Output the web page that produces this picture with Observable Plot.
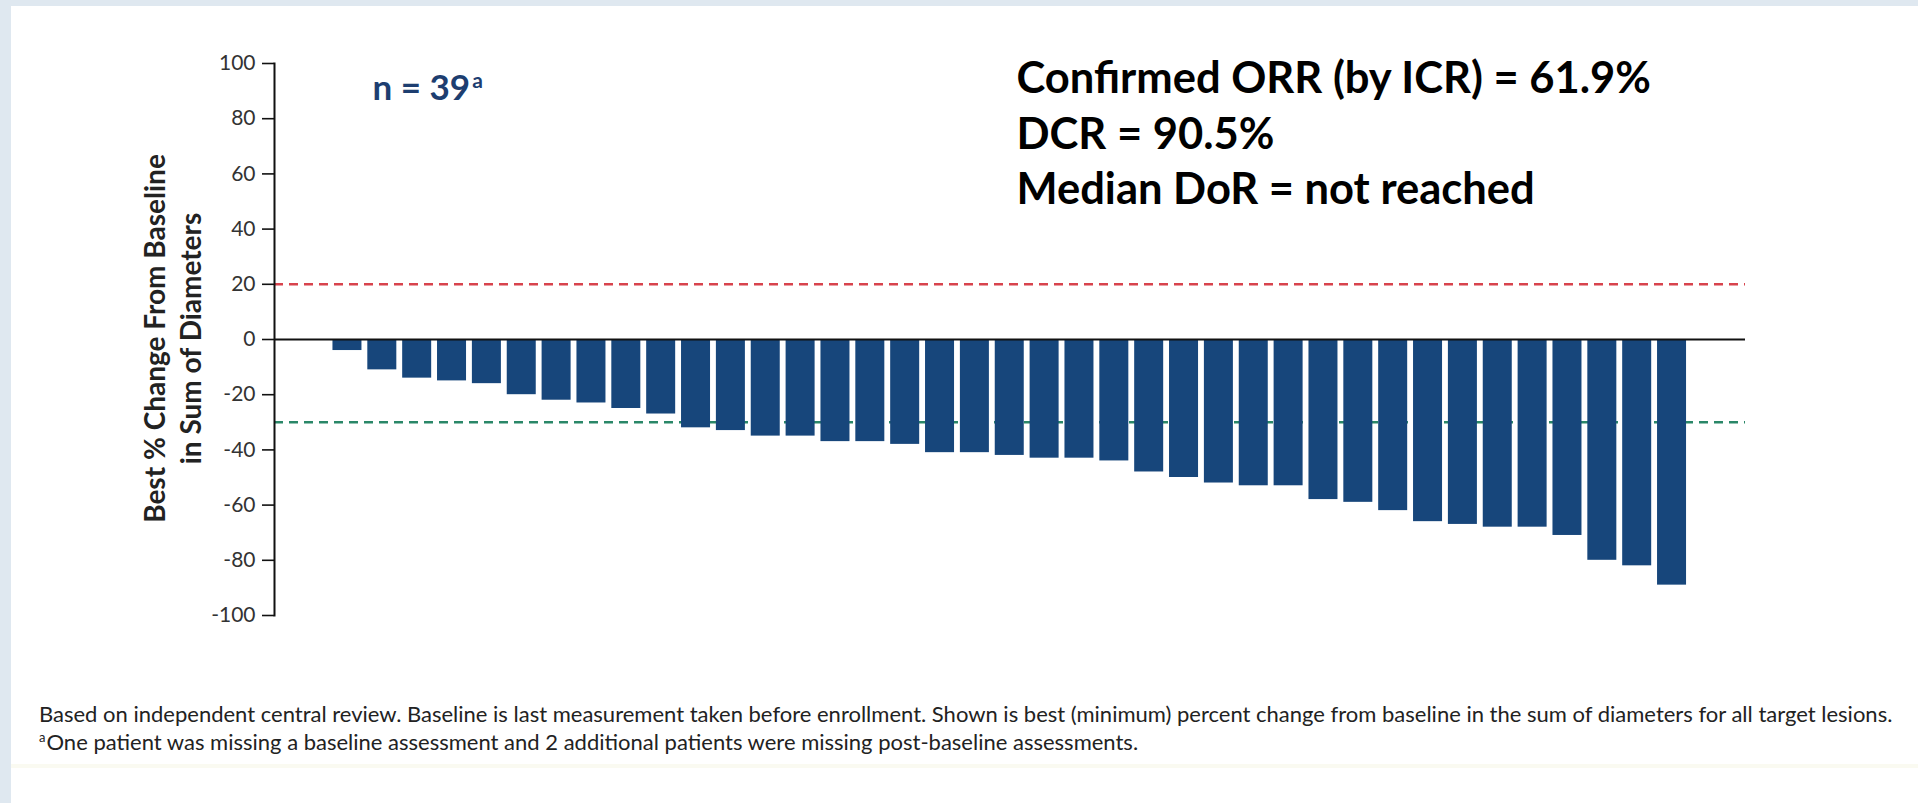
<!DOCTYPE html>
<html>
<head>
<meta charset="utf-8">
<script src="https://cdn.jsdelivr.net/npm/d3@7"></script>
<script src="https://cdn.jsdelivr.net/npm/@observablehq/plot@0.6"></script>
<style>
  html, body { margin: 0; padding: 0; background: #ffffff; }
  #page { position: relative; width: 1918px; height: 803px; overflow: hidden; background: #ffffff; }
  .edge-left { position: absolute; left: 0; top: 0; width: 11px; height: 803px; background: #dfe8f0; }
  .edge-top { position: absolute; left: 0; top: 0; width: 1918px; height: 6px; background: #dfe8f0; }
  .edge-bottom { position: absolute; left: 11px; top: 764px; width: 1907px; height: 4px; background: #fafaf1; }
  #chart { position: absolute; left: 0; top: 0; }
  #notes { position: absolute; left: 39px; top: 700px; font-family: Lato, "Open Sans", sans-serif; font-size: 22px; color: #222; line-height: 28px; white-space: nowrap; }
  #notes sup { font-size: 13px; vertical-align: 8px; line-height: 0; margin-right: 1px; }
</style>
</head>
<body>
<div id="page">
  <div class="edge-left"></div>
  <div class="edge-top"></div>
  <div class="edge-bottom"></div>
  <div id="chart"></div>
  <div id="notes"></div>
</div>
<script>
// Best percent change from baseline in sum of target-lesion diameters, one bar per patient (sorted)
const bestChange = [
  -4, -11, -14, -15, -16, -20, -22, -23, -25, -27,
  -32, -33, -35, -35, -37, -37, -38, -41, -41, -42,
  -43, -43, -44, -48, -50, -52, -53, -53, -58, -59,
  -62, -66, -67, -68, -68, -71, -80, -82, -89
];
const yTicks = [100, 80, 60, 40, 20, 0, -20, -40, -60, -80, -100];
const progressionLine = [20];   // +20% threshold
const responseLine = [-30];     // -30% threshold
const yLabelLines = ["Best % Change From Baseline", "in Sum of Diameters"];
const sampleLabel = ["n = 39"];
const sampleMark = "a";
const summaryLines = ["Confirmed ORR (by ICR) = 61.9%", "DCR = 90.5%", "Median DoR = not reached"];
const footnotes = [
  "Based on independent central review. Baseline is last measurement taken before enrollment. Shown is best (minimum) percent change from baseline in the sum of diameters for all target lesions.",
  "One patient was missing a baseline assessment and 2 additional patients were missing post-baseline assessments."
];

const rows = bestChange.map((v, i) => ({patient: i + 1, change: v}));

const barColor = "#17467b";
const navy = "#1d3e70";
const font = "Lato, 'Open Sans', sans-serif";

// one rotated text mark per y-label line
const yLabelMarks = yLabelLines.map((line, i) =>
  Plot.text([line], {
    text: d => d,
    frameAnchor: "left",
    rotate: -90,
    dx: -118 + i * 36,
    dy: -1,
    textAnchor: "middle",
    lineAnchor: "middle",
    fontSize: 28,
    fontWeight: "bold",
    fontFamily: font,
    fill: "#222"
  })
);

// one text mark per summary line, stacked from the top of the frame
const summaryMarks = summaryLines.map((line, i) =>
  Plot.text([line], {
    text: d => d,
    frameAnchor: "top-left",
    dx: 742,
    dy: -1 + i * 55.5,
    textAnchor: "start",
    lineAnchor: "top",
    fontSize: 43.5,
    fontWeight: "bold",
    fontFamily: font,
    fill: "#000"
  })
);

const chart = Plot.plot({
  width: 1918,
  height: 680,
  marginLeft: 274,
  marginRight: 173,
  marginTop: 63,
  marginBottom: 65,
  style: {background: "transparent", overflow: "visible"},
  x: {
    type: "band",
    domain: rows.map(d => d.patient),
    padding: 0.168,
    insetLeft: 52.6,
    insetRight: 53.1,
    axis: null
  },
  y: {domain: [-100, 100], axis: null},
  marks: [
    Plot.ruleY(progressionLine, {stroke: "#d8434d", strokeWidth: 2.6, strokeDasharray: "9,6"}),
    Plot.ruleY(responseLine, {stroke: "#2a8768", strokeWidth: 2.6, strokeDasharray: "9,6"}),
    Plot.barY(rows, {x: "patient", y1: 0, y2: "change", fill: barColor}),
    Plot.ruleY([0], {stroke: "#111", strokeWidth: 2}),
    Plot.frame({anchor: "left", stroke: "#111", strokeWidth: 2}),
    Plot.axisY({
      ticks: yTicks,
      tickSize: 12,
      tickPadding: 7,
      tickFormat: d => String(d),
      fontSize: 21,
      fontFamily: font,
      fill: "#333",
      stroke: "#111",
      strokeWidth: 1.6,
      label: null
    }),
    ...yLabelMarks,
    Plot.text(sampleLabel, {
      text: d => d,
      frameAnchor: "top-left",
      dx: 98,
      dy: 12,
      textAnchor: "start",
      lineAnchor: "top",
      fontSize: 35,
      fontWeight: "bold",
      fontFamily: font,
      fill: navy
    }),
    ...summaryMarks
  ]
});

// superscript footnote marker after the sample size
d3.select(chart).selectAll("text")
  .filter(function () { return this.textContent === sampleLabel[0]; })
  .append("tspan")
  .attr("baseline-shift", "super")
  .attr("font-size", 21)
  .attr("dx", 2)
  .text(sampleMark);

document.getElementById("chart").appendChild(chart);

const notes = document.getElementById("notes");
const line1 = document.createElement("div");
line1.textContent = footnotes[0];
const line2 = document.createElement("div");
const sup = document.createElement("sup");
sup.textContent = "a";
line2.appendChild(sup);
line2.appendChild(document.createTextNode(footnotes[1]));
notes.appendChild(line1);
notes.appendChild(line2);
</script>
</body>
</html>
